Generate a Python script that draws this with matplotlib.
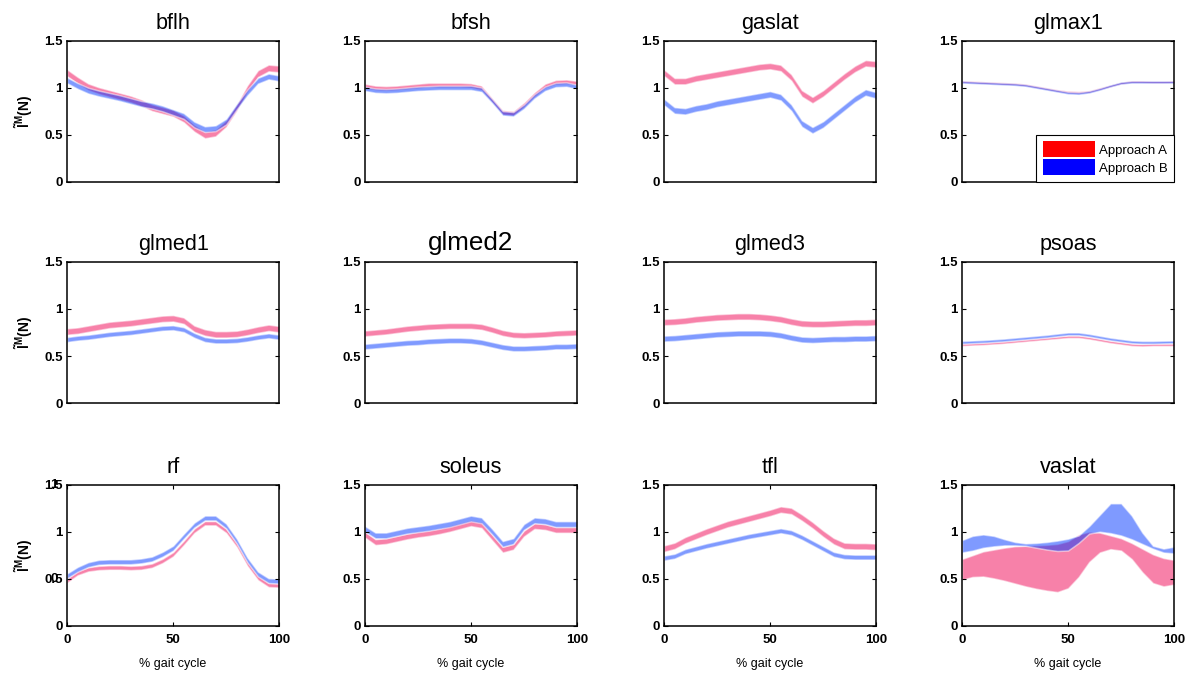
import numpy as np
import matplotlib
matplotlib.use("Agg")
import matplotlib.pyplot as plt
from matplotlib.patches import Patch

plt.rcParams['font.family'] = ['Liberation Sans', 'DejaVu Sans']
plt.rcParams['mathtext.fontset'] = 'custom'
plt.rcParams['mathtext.rm'] = 'Liberation Sans:bold'
plt.rcParams['mathtext.it'] = 'Liberation Sans:bold'
plt.rcParams['mathtext.bf'] = 'Liberation Sans:bold'

# % gait cycle sample points
gait = [0, 5, 10, 15, 20, 25, 30, 35, 40, 45, 50, 55, 60, 65, 70, 75, 80, 85, 90, 95, 100]

muscles = ['bflh', 'bfsh', 'gaslat', 'glmax1',
           'glmed1', 'glmed2', 'glmed3', 'psoas',
           'rf', 'soleus', 'tfl', 'vaslat']

# mean normalized fiber length, Approach A (red) and Approach B (blue); half band widths
bflh_a = [1.16, 1.08, 1.01, 0.97, 0.94, 0.91, 0.88, 0.84, 0.79, 0.76, 0.73, 0.67, 0.57, 0.50, 0.52, 0.62, 0.79, 0.99, 1.15, 1.21, 1.20]
bflh_b = [1.08, 1.02, 0.97, 0.94, 0.915, 0.89, 0.86, 0.83, 0.81, 0.78, 0.74, 0.70, 0.61, 0.56, 0.57, 0.64, 0.80, 0.95, 1.075, 1.12, 1.10]
bflh_w = (0.035, 0.03)

bfsh_a = [1.02, 1.00, 0.995, 1.00, 1.01, 1.02, 1.03, 1.03, 1.03, 1.03, 1.025, 1.00, 0.87, 0.74, 0.73, 0.82, 0.93, 1.02, 1.06, 1.065, 1.05]
bfsh_b = [0.99, 0.97, 0.965, 0.97, 0.98, 0.99, 0.995, 1.00, 1.00, 1.00, 1.00, 0.98, 0.86, 0.73, 0.72, 0.80, 0.91, 0.99, 1.03, 1.035, 1.01]
bfsh_w = (0.022, 0.022)

gaslat_a = [1.16, 1.07, 1.07, 1.10, 1.12, 1.14, 1.16, 1.18, 1.20, 1.22, 1.23, 1.21, 1.11, 0.94, 0.87, 0.94, 1.03, 1.12, 1.20, 1.26, 1.25]
gaslat_b = [0.85, 0.76, 0.75, 0.78, 0.80, 0.83, 0.85, 0.87, 0.89, 0.91, 0.93, 0.90, 0.79, 0.62, 0.55, 0.61, 0.70, 0.79, 0.88, 0.95, 0.92]
gaslat_w = (0.033, 0.033)

glmax1_a = [1.065, 1.06, 1.055, 1.05, 1.045, 1.04, 1.03, 1.01, 0.99, 0.97, 0.955, 0.95, 0.96, 0.99, 1.02, 1.05, 1.065, 1.065, 1.06, 1.06, 1.065]
glmax1_b = [1.06, 1.055, 1.05, 1.045, 1.04, 1.035, 1.025, 1.005, 0.985, 0.965, 0.945, 0.94, 0.955, 0.985, 1.02, 1.05, 1.06, 1.06, 1.06, 1.06, 1.06]
glmax1_w = (0.012, 0.012)

glmed1_a = [0.76, 0.77, 0.79, 0.81, 0.83, 0.84, 0.85, 0.865, 0.88, 0.895, 0.90, 0.875, 0.79, 0.75, 0.73, 0.73, 0.735, 0.755, 0.78, 0.80, 0.785]
glmed1_b = [0.675, 0.69, 0.70, 0.715, 0.73, 0.74, 0.75, 0.765, 0.78, 0.795, 0.80, 0.78, 0.72, 0.675, 0.66, 0.66, 0.665, 0.68, 0.70, 0.715, 0.70]
glmed1_w = (0.033, 0.025)

glmed2_a = [0.74, 0.75, 0.76, 0.775, 0.79, 0.80, 0.81, 0.815, 0.82, 0.82, 0.82, 0.81, 0.78, 0.745, 0.725, 0.72, 0.725, 0.73, 0.74, 0.745, 0.75]
glmed2_b = [0.60, 0.61, 0.62, 0.63, 0.64, 0.645, 0.655, 0.66, 0.665, 0.665, 0.66, 0.645, 0.62, 0.595, 0.58, 0.58, 0.585, 0.59, 0.60, 0.60, 0.605]
glmed2_w = (0.03, 0.028)

glmed3_a = [0.86, 0.865, 0.875, 0.89, 0.90, 0.91, 0.915, 0.92, 0.92, 0.915, 0.905, 0.89, 0.865, 0.845, 0.84, 0.84, 0.845, 0.85, 0.855, 0.855, 0.86]
glmed3_b = [0.685, 0.69, 0.70, 0.71, 0.72, 0.73, 0.735, 0.74, 0.74, 0.74, 0.735, 0.72, 0.695, 0.675, 0.67, 0.675, 0.68, 0.68, 0.685, 0.685, 0.69]
glmed3_w = (0.033, 0.03)

psoas_a = [0.62, 0.625, 0.63, 0.637, 0.645, 0.655, 0.665, 0.675, 0.685, 0.695, 0.705, 0.705, 0.69, 0.67, 0.65, 0.635, 0.62, 0.615, 0.62, 0.62, 0.62]
psoas_b = [0.645, 0.65, 0.655, 0.662, 0.67, 0.68, 0.69, 0.70, 0.71, 0.723, 0.735, 0.735, 0.72, 0.70, 0.68, 0.665, 0.65, 0.645, 0.645, 0.648, 0.65]
psoas_w = (0.012, 0.014)

rf_a = [0.48, 0.56, 0.60, 0.615, 0.62, 0.62, 0.615, 0.62, 0.64, 0.69, 0.76, 0.88, 1.01, 1.09, 1.09, 1.01, 0.86, 0.66, 0.51, 0.435, 0.43]
rf_b = [0.53, 0.60, 0.65, 0.675, 0.68, 0.68, 0.68, 0.69, 0.71, 0.76, 0.825, 0.95, 1.07, 1.145, 1.145, 1.06, 0.90, 0.70, 0.55, 0.48, 0.475]
rf_w = (0.022, 0.025)

soleus_a = [0.97, 0.89, 0.90, 0.925, 0.95, 0.97, 0.985, 1.005, 1.03, 1.06, 1.09, 1.07, 0.94, 0.81, 0.84, 0.98, 1.06, 1.05, 1.02, 1.02, 1.02]
soleus_b = [1.03, 0.96, 0.96, 0.985, 1.01, 1.025, 1.04, 1.06, 1.08, 1.11, 1.14, 1.12, 1.00, 0.87, 0.90, 1.05, 1.12, 1.11, 1.08, 1.08, 1.08]
soleus_w = (0.03, 0.03)

tfl_a = [0.82, 0.85, 0.91, 0.955, 1.00, 1.04, 1.08, 1.11, 1.14, 1.17, 1.20, 1.235, 1.22, 1.15, 1.07, 0.98, 0.90, 0.85, 0.845, 0.845, 0.84]
tfl_b = [0.72, 0.74, 0.79, 0.82, 0.85, 0.875, 0.90, 0.925, 0.95, 0.97, 0.99, 1.01, 0.99, 0.94, 0.88, 0.82, 0.76, 0.735, 0.73, 0.73, 0.73]
tfl_w = (0.033, 0.025)

# vaslat has wide bands: explicit lower / upper bounds
vaslat_a_lo = [0.49, 0.52, 0.525, 0.505, 0.48, 0.45, 0.42, 0.395, 0.375, 0.36, 0.40, 0.52, 0.68, 0.78, 0.815, 0.80, 0.71, 0.57, 0.455, 0.42, 0.44]
vaslat_a_hi = [0.71, 0.75, 0.79, 0.81, 0.83, 0.845, 0.85, 0.855, 0.86, 0.87, 0.90, 0.97, 1.00, 0.99, 0.96, 0.93, 0.88, 0.82, 0.76, 0.72, 0.70]
vaslat_b_lo = [0.78, 0.80, 0.83, 0.845, 0.855, 0.855, 0.85, 0.83, 0.81, 0.795, 0.80, 0.88, 0.98, 1.00, 0.985, 0.96, 0.92, 0.87, 0.82, 0.78, 0.77]
vaslat_b_hi = [0.91, 0.955, 0.97, 0.955, 0.92, 0.89, 0.875, 0.88, 0.89, 0.905, 0.925, 0.96, 1.06, 1.18, 1.30, 1.30, 1.17, 0.99, 0.85, 0.82, 0.84]

yticks = [0, 0.5, 1, 1.5]
ytick_labels = ['0', '0.5', '1', '1.5']
xticks = [0, 50, 100]
xtick_labels = ['0', '50', '100']

bands = {}
for name in muscles[:-1]:
    a = np.array(globals()[name + '_a'])
    b = np.array(globals()[name + '_b'])
    wa, wb = globals()[name + '_w']
    bands[name] = ((a - wa, a + wa), (b - wb, b + wb))
bands['vaslat'] = ((np.array(vaslat_a_lo), np.array(vaslat_a_hi)),
                   (np.array(vaslat_b_lo), np.array(vaslat_b_hi)))

col_a = (241 / 255, 5 / 255, 85 / 255)
col_b = (0.0, 55 / 255, 1.0)

fig = plt.figure(figsize=(11.92, 6.73), dpi=100)
lefts = [0.0562, 0.306, 0.557, 0.807]
bottoms = [0.7296, 0.401, 0.070]
W, H = 0.178, 0.21
TICK_FS = 9.5

x = np.array(gait)
for i, name in enumerate(muscles):
    r, c = divmod(i, 4)
    ax = fig.add_axes([lefts[c], bottoms[r], W, H])
    (alo, ahi), (blo, bhi) = bands[name]
    ax.fill_between(x, alo, ahi, facecolor=col_a, alpha=0.5, edgecolor='white', linewidth=1.1)
    ax.fill_between(x, blo, bhi, facecolor=col_b, alpha=0.5, edgecolor='white', linewidth=1.1)
    ax.set_xlim(0, 100)
    ax.set_ylim(0, 1.5)
    ax.set_yticks(yticks)
    ax.set_yticklabels(ytick_labels, fontsize=TICK_FS, fontweight='bold')
    ax.tick_params(axis='y', direction='in', length=3, width=0.8, right=True, pad=3)
    if r == 2:
        ax.set_xticks(xticks)
        ax.set_xticklabels(xtick_labels, fontsize=TICK_FS, fontweight='bold')
        ax.tick_params(axis='x', direction='in', length=3, width=0.8, top=True, pad=6)
        ax.set_xlabel('% gait cycle', fontsize=9, labelpad=8.5)
    else:
        ax.set_xticks([])
    for sp in ax.spines.values():
        sp.set_linewidth(1.1)
    ax.set_title(name, fontsize=18.7 if name == 'glmed2' else 15.6, pad=8.5)
    if c == 0:
        ax.set_ylabel(r'$\tilde{\mathrm{l}}^{\mathrm{M}}$(N)', fontsize=10, fontweight='bold', labelpad=7)
    if name == 'rf':
        for yv, lab in [(1.5, '1'), (0.5, '0')]:
            ax.annotate(lab, xy=(0, yv), xycoords=('axes fraction', 'data'),
                        xytext=(-9.5, 0), textcoords='offset points',
                        ha='center', va='center', fontsize=TICK_FS, fontweight='bold')
    if name == 'glmax1':
        handles = [Patch(facecolor=(1, 0, 0), edgecolor='none'),
                   Patch(facecolor=(0, 0, 1), edgecolor='none')]
        leg = ax.legend(handles, ['Approach A', 'Approach B'], loc='lower right',
                        bbox_to_anchor=(1.0, 0.0), borderaxespad=0, fontsize=9.5,
                        fancybox=False, framealpha=1, edgecolor='black',
                        handlelength=4.0, handleheight=1.5, handletextpad=0.25,
                        labelspacing=0.15, borderpad=0.5)
        leg.get_frame().set_linewidth(0.8)

fig.savefig('out.png', dpi=100)
